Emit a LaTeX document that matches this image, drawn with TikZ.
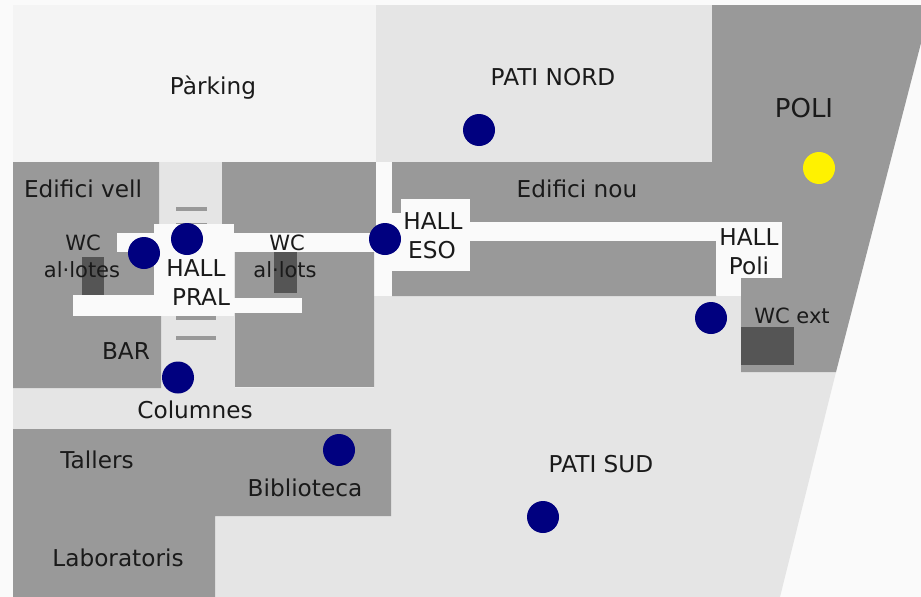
\documentclass[tikz,border=0pt]{standalone}
\usepackage{fontspec}
\setmainfont{DejaVu Sans}
\definecolor{pagebg}{HTML}{FAFAFA}
\definecolor{parkc}{HTML}{F4F4F4}
\definecolor{yardc}{HTML}{E5E5E5}
\definecolor{bldc}{HTML}{999999}
\definecolor{wcc}{HTML}{555555}
\definecolor{hallc}{HTML}{FAFAFA}
\definecolor{dotc}{HTML}{00007F}
\definecolor{inkc}{HTML}{1A1A1A}
\tikzset{
  yard/.style={fill=yardc,draw=none},
  bld/.style={fill=bldc,draw=none},
  hallarea/.style={fill=hallc,draw=none},
  wcarea/.style={fill=wcc,draw=none},
  stair/.style={draw=bldc,line width=3.6pt},
  spot/.style={circle,fill=dotc,draw=none,minimum size=32pt,inner sep=0pt},
  spotpoli/.style={spot,fill=yellow},
  lab/.style={text=inkc,inner sep=0pt,font=\fontsize{23.2}{27}\selectfont},
  labs/.style={lab,font=\fontsize{21}{25}\selectfont},
  labb/.style={lab,font=\fontsize{26}{30}\selectfont}
}
\begin{document}
\begin{tikzpicture}[x=1pt,y=-1pt]
\useasboundingbox (0,0) rectangle (921,597);
\fill[pagebg] (0,0) rectangle (921,597);
% open areas
\fill[parkc] (13,5) rectangle (376,162);
\fill[yard] (376,5) rectangle (712,162);
\fill[yard] (13,388) -- (374,388) -- (374,296) -- (741,296) -- (741,372) -- (836,372) -- (780,597) -- (13,597) -- cycle;
\fill[yard] (159,162) rectangle (222,240);
\fill[yard] (161,240) rectangle (235,390);
% buildings
\fill[bld] (712,5) -- (921,5) -- (921,43) -- (836,372) -- (741,372) -- (741,278) -- (716,278) -- (716,296) -- (392,296) -- (392,162) -- (712,162) -- cycle;
\fill[bld] (13,162) -- (159,162) -- (159,240) -- (161,240) -- (161,388) -- (13,388) -- cycle;
\fill[bld] (222,162) -- (376,162) -- (376,240) -- (374,240) -- (374,387) -- (235,387) -- (235,240) -- (222,240) -- cycle;
\fill[bld] (13,429) -- (391,429) -- (391,516) -- (215,516) -- (215,597) -- (13,597) -- cycle;
% stairs
\draw[stair] (176,209) -- (207,209);
\draw[stair] (176,224.5) -- (207,224.5);
\draw[stair] (176,318) -- (216,318);
\draw[stair] (176,338) -- (216,338);
% white corridors and halls
\fill[hallarea] (117,233) rectangle (376,252);
\fill[hallarea] (154,224) rectangle (234,316);
\fill[hallarea] (73,295) rectangle (154,316);
\fill[hallarea] (234,298) rectangle (302,313);
\fill[hallarea] (376,162) rectangle (392,295);
\fill[hallarea] (392,213) rectangle (401,271);
\fill[hallarea] (401,199) rectangle (470,271);
\fill[hallarea] (470,222) rectangle (782,241);
\fill[hallarea] (716,222) rectangle (782,278);
\fill[hallarea] (716,278) rectangle (741,295);
% WCs
\fill[wcarea] (82,257) rectangle (104,295);
\fill[wcarea] (274,252) rectangle (297,293);
\fill[wcarea] (741,327) rectangle (794,365);
% labels
\node[lab] (parking) at (213,88) {Pàrking};
\node[lab] (patinord) at (553,77) {PATI NORD};
\node[labb] (poli) at (804,108) {POLI};
\node[lab] (nou) at (577,189) {Edifici nou};
\node[lab] (vell) at (83,189) {Edifici vell};
\node[labs] (wca) at (83,243) {WC};
\node[labs] (lotes) at (82,270) {al·lotes};
\node[labs] (wcb) at (287,243) {WC};
\node[labs] (lots) at (285,270) {al·lots};
\node[lab] (hallp) at (196,268) {HALL};
\node[lab] (pral) at (201,297) {PRAL};
\node[lab] (halle) at (433,221) {HALL};
\node[lab] (eso) at (432,250) {ESO};
\node[lab] (hallo) at (749,237) {HALL};
\node[lab] (polih) at (749,266) {Poli};
\node[labs] (wcext) at (792,316) {WC ext};
\node[lab] (bar) at (126,351) {BAR};
\node[lab] (col) at (195,410) {Columnes};
\node[lab] (tall) at (97,460) {Tallers};
\node[lab] (bib) at (305,488) {Biblioteca};
\node[lab] (patisud) at (601,464) {PATI SUD};
\node[lab] (lab) at (118,558) {Laboratoris};
% spots
\node[spot] (s1) at (144,253) {};
\node[spot] (s2) at (187,239) {};
\node[spot] (s3) at (385,239) {};
\node[spot] (s4) at (178,377.5) {};
\node[spot] (s5) at (339,450) {};
\node[spot] (s6) at (479,130) {};
\node[spot] (s7) at (711,318) {};
\node[spot] (s8) at (543,517) {};
\node[spotpoli] (s9) at (819,168) {};
\end{tikzpicture}
\end{document}
